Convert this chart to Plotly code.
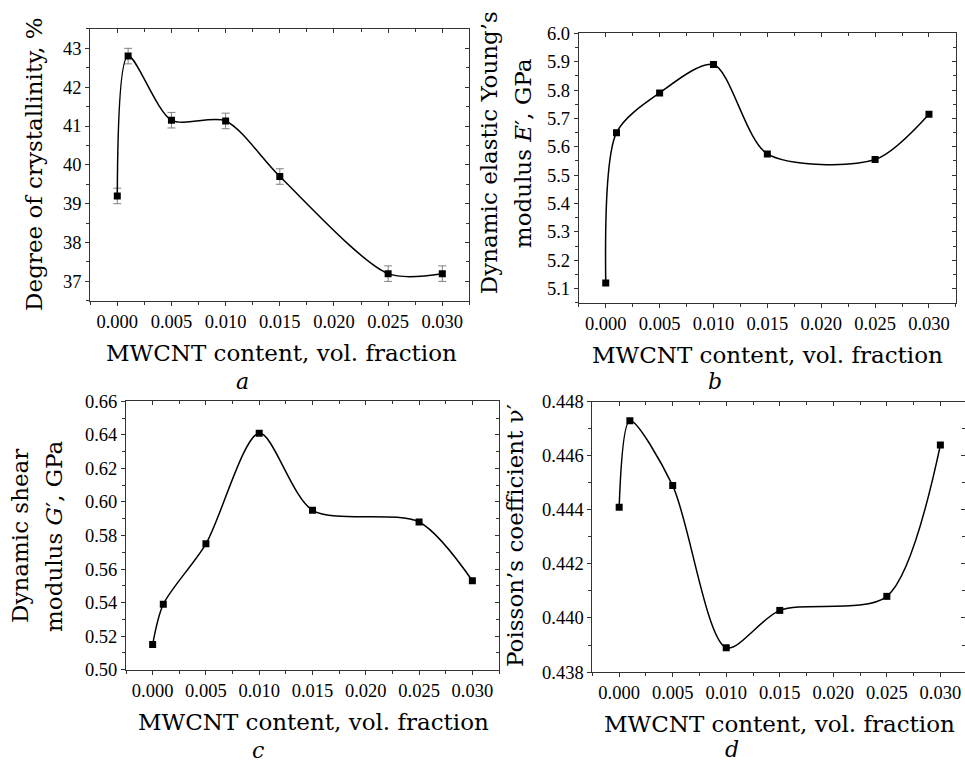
import plotly.graph_objects as go

W, H = 965, 769

# ---------------- data ----------------
x_content = [0.0, 0.001, 0.005, 0.010, 0.015, 0.025, 0.030]

crystallinity = [39.2, 42.8, 41.15, 41.13, 39.7, 37.2, 37.2]
crystallinity_err = [0.2, 0.2, 0.2, 0.2, 0.2, 0.2, 0.2]

young_modulus = [5.12, 5.65, 5.79, 5.89, 5.575, 5.555, 5.715]

x_shear = [0.0, 0.001, 0.005, 0.010, 0.015, 0.025, 0.030]
shear_modulus = [0.515, 0.539, 0.575, 0.641, 0.595, 0.588, 0.553]

poisson = [0.4441, 0.4473, 0.4449, 0.4389, 0.44028, 0.4408, 0.4464]

x_ticks_fmt = ".3f"
x_title = "MWCNT content, vol. fraction"

# ---------------- style helpers ----------------
AX = "#333333"
TICKFONT = dict(family="'Liberation Serif', 'Times New Roman', serif", size=18.5, color="black")
TFONT = dict(family="'DejaVu Serif', 'Liberation Serif', serif", size=23, color="black")


def px2x(px):
    return px / W


def px2y(py):
    return 1 - py / H


def base_x(domain, rng, anchor):
    return dict(domain=domain, range=rng, anchor=anchor, showgrid=False, zeroline=False,
                showline=True, linecolor=AX, linewidth=1, ticks="outside", ticklen=4,
                tickcolor=AX, tickwidth=1, dtick=0.005, tick0=0, tickformat=x_ticks_fmt,
                tickfont=TICKFONT,
                minor=dict(dtick=0.0025, tick0=0, ticks="outside", ticklen=3, tickcolor=AX, showgrid=False))


def base_y(domain, rng, anchor, dtick, tick0, fmt):
    return dict(domain=domain, range=rng, anchor=anchor, showgrid=False, zeroline=False,
                showline=True, linecolor=AX, linewidth=1, ticks="outside", ticklen=4,
                tickcolor=AX, tickwidth=1, dtick=dtick, tick0=tick0, tickformat=fmt,
                tickfont=TICKFONT,
                minor=dict(dtick=dtick / 2, tick0=tick0, ticks="outside", ticklen=3, tickcolor=AX, showgrid=False))


def mirror_x(over, anchor, rng):
    return dict(overlaying=over, anchor=anchor, side="top", range=rng, showgrid=False, zeroline=False,
                showline=True, linecolor=AX, linewidth=1, ticks="inside", ticklen=4, tickcolor=AX,
                showticklabels=False, dtick=0.005, tick0=0,
                minor=dict(dtick=0.0025, tick0=0, ticks="inside", ticklen=3, tickcolor=AX, showgrid=False))


def mirror_y(over, anchor, rng, dtick, tick0):
    return dict(overlaying=over, anchor=anchor, side="right", range=rng, showgrid=False, zeroline=False,
                showline=True, linecolor=AX, linewidth=1, ticks="inside", ticklen=4, tickcolor=AX,
                showticklabels=False, dtick=dtick, tick0=tick0,
                minor=dict(dtick=dtick / 2, tick0=tick0, ticks="inside", ticklen=3, tickcolor=AX, showgrid=False))


line_style = dict(color="black", width=1.5, shape="spline", smoothing=0.8)
marker_style = dict(symbol="square", size=7, color="black")

fig = go.Figure()

# panel a
fig.add_trace(go.Scatter(x=x_content, y=crystallinity, mode="lines+markers", line=line_style,
                         marker=marker_style, xaxis="x", yaxis="y",
                         error_y=dict(type="data", array=crystallinity_err, color="#808080",
                                      thickness=1, width=4)))
# panel b
fig.add_trace(go.Scatter(x=x_content, y=young_modulus, mode="lines+markers", line=line_style,
                         marker=marker_style, xaxis="x2", yaxis="y2"))
# panel c
fig.add_trace(go.Scatter(x=x_shear, y=shear_modulus, mode="lines+markers", line=line_style,
                         marker=marker_style, xaxis="x3", yaxis="y3"))
# panel d
fig.add_trace(go.Scatter(x=x_content, y=poisson, mode="lines+markers", line=line_style,
                         marker=marker_style, xaxis="x4", yaxis="y4"))

# empty helper traces so the mirrored frame axes (top / right) are drawn
for xa, ya in [("x5", "y"), ("x", "y5"), ("x6", "y2"), ("x2", "y6"),
               ("x7", "y3"), ("x3", "y7"), ("x8", "y4"), ("x4", "y8")]:
    fig.add_trace(go.Scatter(x=[None], y=[None], mode="markers", xaxis=xa, yaxis=ya,
                             hoverinfo="skip", showlegend=False))

XR = [-0.0025, 0.0325]
XRd = [-0.0025, 0.0323]
ya_r = [36.5, 43.5]
yb_r = [5.05, 6.0]
yc_r = [0.50, 0.66]
yd_r = [0.438, 0.448]

dom = {
    "a": ([px2x(90.2), px2x(469.4)], [px2y(298.6), px2y(19.4)]),
    "b": ([px2x(578.8), px2x(955.9)], [px2y(300.6), px2y(24.0)]),
    "c": ([px2x(126.0), px2x(499.0)], [px2y(677.3), px2y(401.7)]),
    "d": ([px2x(592.4), 1.0], [px2y(679.7), px2y(402.3)]),
}

fig.update_layout(
    xaxis=base_x(dom["a"][0], XR, "y"),
    yaxis=base_y(dom["a"][1], ya_r, "x", 1, 0, "d"),
    xaxis2=base_x(dom["b"][0], XR, "y2"),
    yaxis2=base_y(dom["b"][1], yb_r, "x2", 0.1, 5.0, ".1f"),
    xaxis3=base_x(dom["c"][0], XR, "y3"),
    yaxis3=base_y(dom["c"][1], yc_r, "x3", 0.02, 0.5, ".2f"),
    xaxis4=base_x(dom["d"][0], XRd, "y4"),
    yaxis4=base_y(dom["d"][1], yd_r, "x4", 0.002, 0.438, ".3f"),
    xaxis5=mirror_x("x", "y", XR),
    yaxis5=mirror_y("y", "x", ya_r, 1, 0),
    xaxis6=mirror_x("x2", "y2", XR),
    yaxis6=mirror_y("y2", "x2", yb_r, 0.1, 5.0),
    xaxis7=mirror_x("x3", "y3", XR),
    yaxis7=mirror_y("y3", "x3", yc_r, 0.02, 0.5),
    xaxis8=mirror_x("x4", "y4", XRd),
    yaxis8=mirror_y("y4", "x4", yd_r, 0.002, 0.438),
)

ann = []


def add_text(text, px, py, angle=0, font=TFONT):
    ann.append(dict(text=text, x=px2x(px), y=px2y(py), xref="paper", yref="paper",
                    showarrow=False, textangle=angle, xanchor="center", yanchor="middle", font=font))


# x-axis titles
add_text(x_title, 281, 352)
add_text(x_title, 767, 354)
add_text(x_title, 313, 731)
add_text(x_title, 779, 733)

# y-axis titles
add_text("Degree of crystallinity, %", 34, 158, -90)
add_text("Dynamic elastic Young’s", 489, 147, -90)
add_text("modulus <i>E</i>′, GPa", 523, 147, -90)
add_text("Dynamic shear", 20, 540, -90)
add_text("modulus <i>G</i>′, GPa", 54, 540, -90)
add_text("Poisson’s coefficient ν′", 515, 540, -90)

# panel letters
LF = dict(family="'DejaVu Serif', 'Liberation Serif', serif", size=22, color="black")
add_text("<i>a</i>", 243, 381, 0, LF)
add_text("<i>b</i>", 715, 381, 0, LF)
add_text("<i>c</i>", 258, 760, 0, LF)
add_text("<i>d</i>", 732, 759, 0, LF)

fig.update_layout(
    annotations=ann,
    width=W, height=H,
    margin=dict(l=0, r=0, t=0, b=0),
    paper_bgcolor="white", plot_bgcolor="white",
    showlegend=False,
)

fig.write_html("out.html")
